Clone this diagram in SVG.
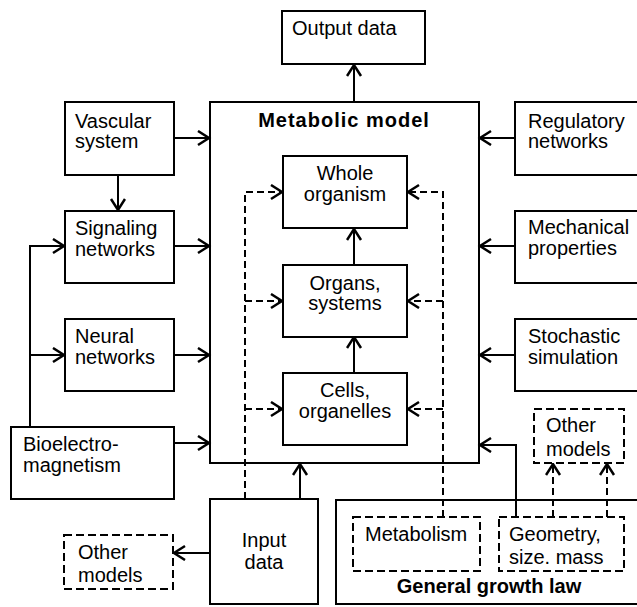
<svg xmlns="http://www.w3.org/2000/svg" width="637" height="607" viewBox="0 0 637 607">
<style>
.b{fill:#fff;stroke:#000;stroke-width:2}
.n{fill:none;stroke:#000;stroke-width:2}
.d{fill:#fff;stroke:#000;stroke-width:2;stroke-dasharray:8,4}
text{font-family:"Liberation Sans",Arial,sans-serif;font-size:20px;fill:#000}
.c{text-anchor:middle}
.t{font-weight:bold;text-anchor:middle}
.l{fill:none;stroke:#000;stroke-width:2}
.dl{fill:none;stroke:#000;stroke-width:2;stroke-dasharray:7,4}
</style>
<defs>
<marker id="a" markerUnits="userSpaceOnUse" markerWidth="16" markerHeight="18" refX="13" refY="8" orient="auto">
<path d="M2,1 L13,8 L2,15" fill="none" stroke="#000" stroke-width="2.5" stroke-dasharray="none"/>
</marker>
</defs>
<rect width="637" height="607" fill="#fff"/>
<g id="connectors">
<path class="l" d="M354,102 V65" marker-end="url(#a)"/>
<path class="l" d="M174,138 H209" marker-end="url(#a)"/>
<path class="l" d="M118,175 V210" marker-end="url(#a)"/>
<path class="l" d="M174,246 H209" marker-end="url(#a)"/>
<path class="l" d="M174,355 H209" marker-end="url(#a)"/>
<path class="l" d="M174,443 H209" marker-end="url(#a)"/>
<path class="l" d="M30,427 V246 H64" marker-end="url(#a)"/>
<path class="l" d="M30,355 H64" marker-end="url(#a)"/>
<path class="l" d="M515,138 H480" marker-end="url(#a)"/>
<path class="l" d="M515,246 H480" marker-end="url(#a)"/>
<path class="l" d="M515,355 H480" marker-end="url(#a)"/>
<path class="l" d="M516,517 V445 H480" marker-end="url(#a)"/>
<path class="l" d="M354,265 V229" marker-end="url(#a)"/>
<path class="l" d="M354,373 V337" marker-end="url(#a)"/>
<path class="l" d="M300,499 V464" marker-end="url(#a)"/>
<path class="l" d="M210,553 H174" marker-end="url(#a)"/>
<path class="dl" d="M245,499 V192 H282" marker-end="url(#a)"/>
<path class="dl" d="M245,301 H282" marker-end="url(#a)"/>
<path class="dl" d="M245,409 H282" marker-end="url(#a)"/>
<path class="dl" d="M443,517 V192 H408" marker-end="url(#a)"/>
<path class="dl" d="M443,301 H408" marker-end="url(#a)"/>
<path class="dl" d="M443,409 H408" marker-end="url(#a)"/>
<path class="dl" d="M553,517 V464" marker-end="url(#a)"/>
<path class="dl" d="M607,517 V464" marker-end="url(#a)"/>
</g>
<g id="output-data"><rect class="b" x="282" y="11" width="143" height="53"/><text x="292" y="35">Output data</text></g>
<g id="metabolic-model"><rect class="n" x="210" y="102" width="269" height="361"/><text class="t" x="344" y="127" style="letter-spacing:1px">Metabolic model</text></g>
<g id="vascular"><rect class="b" x="65" y="102" width="109" height="73"/><text x="75" y="128">Vascular</text><text x="75" y="148">system</text></g>
<g id="signaling"><rect class="b" x="65" y="211" width="109" height="72"/><text x="75" y="235">Signaling</text><text x="75" y="256">networks</text></g>
<g id="neural"><rect class="b" x="65" y="319" width="109" height="72"/><text x="75" y="343">Neural</text><text x="75" y="364">networks</text></g>
<g id="bioelectro"><rect class="b" x="11" y="427" width="163" height="72"/><text x="23" y="451">Bioelectro-</text><text x="23" y="472">magnetism</text></g>
<g id="regulatory"><rect class="b" x="515" y="102" width="125" height="73"/><text x="528" y="128">Regulatory</text><text x="528" y="148">networks</text></g>
<g id="mechanical"><rect class="b" x="515" y="211" width="125" height="72"/><text x="528" y="234">Mechanical</text><text x="528" y="255">properties</text></g>
<g id="stochastic"><rect class="b" x="515" y="319" width="125" height="72"/><text x="528" y="343">Stochastic</text><text x="528" y="364">simulation</text></g>
<g id="whole"><rect class="b" x="283" y="156" width="124" height="72"/><text class="c" x="345" y="180">Whole</text><text class="c" x="345" y="201">organism</text></g>
<g id="organs"><rect class="b" x="283" y="265" width="124" height="72"/><text class="c" x="345" y="290">Organs,</text><text class="c" x="345" y="310">systems</text></g>
<g id="cells"><rect class="b" x="283" y="373" width="124" height="72"/><text class="c" x="345" y="397">Cells,</text><text class="c" x="345" y="418">organelles</text></g>
<g id="input-data"><rect class="b" x="210" y="499" width="108" height="105"/><text class="c" x="264" y="547">Input</text><text class="c" x="264" y="569">data</text></g>
<g id="other-models-left"><rect class="d" x="64" y="535" width="109" height="54"/><text x="78" y="559">Other</text><text x="78" y="582">models</text></g>
<g id="general-growth-law"><rect class="n" x="336" y="500" width="304" height="104"/><text class="t" x="489" y="593">General growth law</text></g>
<g id="metabolism"><rect class="d" x="353" y="517" width="127" height="54"/><text x="365" y="541">Metabolism</text></g>
<g id="geometry"><rect class="d" x="499" y="517" width="125" height="54"/><text x="509" y="541">Geometry,</text><text x="509" y="564">size. mass</text></g>
<g id="other-models-right"><rect class="d" x="534" y="409" width="90" height="54"/><text x="546" y="432">Other</text><text x="546" y="456">models</text></g>
</svg>
